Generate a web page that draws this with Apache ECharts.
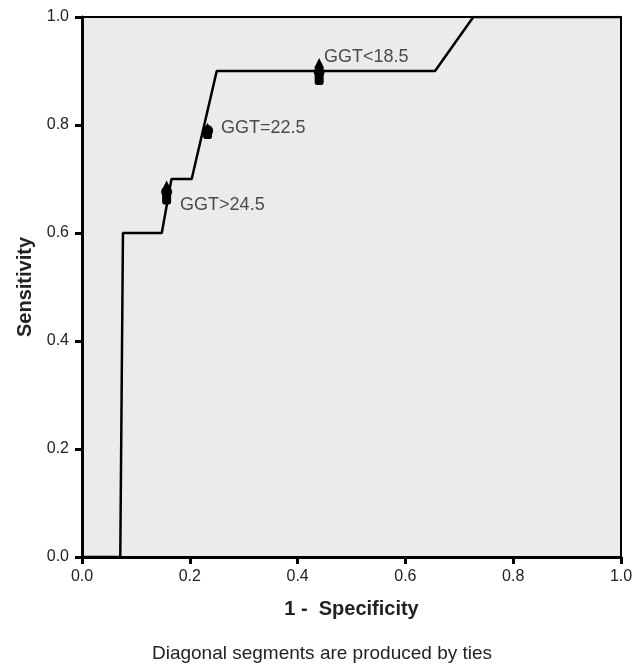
<!DOCTYPE html>
<html><head><meta charset="utf-8">
<script src="https://cdn.jsdelivr.net/npm/echarts@6/dist/echarts.min.js"></script>
<style>html,body{margin:0;padding:0;background:#fff}#c{width:644px;height:664px}</style>
</head><body><div id="c"></div>
<script>
// ROC curve vertices [1-specificity, sensitivity]
const rocX = [0, 0.071, 0.076, 0.148, 0.166, 0.2035, 0.25, 0.655, 0.726, 1.0];
const rocY = [0, 0,     0.6,   0.6,   0.7,   0.7,    0.9,  0.9,   1.0,   1.0];
// cut-off markers
const cutX = [0.157, 0.233, 0.44];
const cutTriY = [0.688, 0.795, 0.915];
const cutCircY = [0.676, 0.79, 0.898];
const cutRectY = [0.664, 0.785, 0.885];
const cutLabels = ['GGT>24.5', 'GGT=22.5', 'GGT<18.5'];
const labelX = [0.182, 0.258, 0.449];
const labelY = [0.652, 0.794, 0.926];
const xTicks = [0, 0.2, 0.4, 0.6, 0.8, 1.0];

const chart = echarts.init(document.getElementById('c'), null, {renderer: 'canvas'});
const font = 'Liberation Sans, Arial, sans-serif';
chart.setOption({
  animation: false,
  grid: {left: 82, right: 23, top: 17, bottom: 107, show: true,
         backgroundColor: '#ebebeb', borderColor: '#000', borderWidth: 2},
  xAxis: {type: 'value', min: 0, max: 1, interval: 0.2,
    name: '1 -  Specificity', nameLocation: 'middle', nameGap: 42,
    nameTextStyle: {fontFamily: font, fontWeight: 'bold', fontSize: 20, color: '#222'},
    axisLine: {lineStyle: {color: '#000', width: 3}},
    axisTick: {length: 7, lineStyle: {color: '#000', width: 3}},
    axisLabel: {fontFamily: font, fontSize: 16, color: '#222', margin: 12,
      formatter: v => v.toFixed(1)},
    splitLine: {show: false}},
  yAxis: {type: 'value', min: 0, max: 1, interval: 0.2,
    name: 'Sensitivity', nameLocation: 'middle', nameGap: 47,
    nameTextStyle: {fontFamily: font, fontWeight: 'bold', fontSize: 20, color: '#222'},
    axisLine: {lineStyle: {color: '#000', width: 3}},
    axisTick: {length: 7, lineStyle: {color: '#000', width: 3}},
    axisLabel: {fontFamily: font, fontSize: 16, color: '#222', margin: 13,
      formatter: v => v.toFixed(1)},
    splitLine: {show: false}},
  graphic: [{type: 'text', left: 'center', top: 644,
    style: {text: 'Diagonal segments are produced by ties', fontFamily: font, fontSize: 19, fill: '#222'}}],
  series: [
    {type: 'line', data: rocX.map((x, i) => [x, rocY[i]]), showSymbol: false,
     lineStyle: {color: '#000', width: 2.5}, z: 3},
    {type: 'scatter', data: cutX.map((x, i) => [x, cutRectY[i]]), symbol: 'roundRect',
     symbolSize: [9, 12], itemStyle: {color: '#000', opacity: 1}, z: 4},
    {type: 'scatter', data: cutX.map((x, i) => [x, cutCircY[i]]), symbol: 'circle',
     symbolSize: 11, itemStyle: {color: '#000', opacity: 1}, z: 4},
    {type: 'scatter', data: cutX.map((x, i) => [x, cutTriY[i]]), symbol: 'triangle',
     symbolSize: 10, itemStyle: {color: '#000', opacity: 1}, z: 4},
    {type: 'scatter', data: labelX.map((x, i) => ({value: [x, labelY[i]], name: cutLabels[i]})),
     symbolSize: 0, z: 5,
     label: {show: true, position: 'right', distance: 0, formatter: p => p.name,
       fontFamily: font, fontSize: 18, color: '#222'}}
  ]
});
</script></body></html>
